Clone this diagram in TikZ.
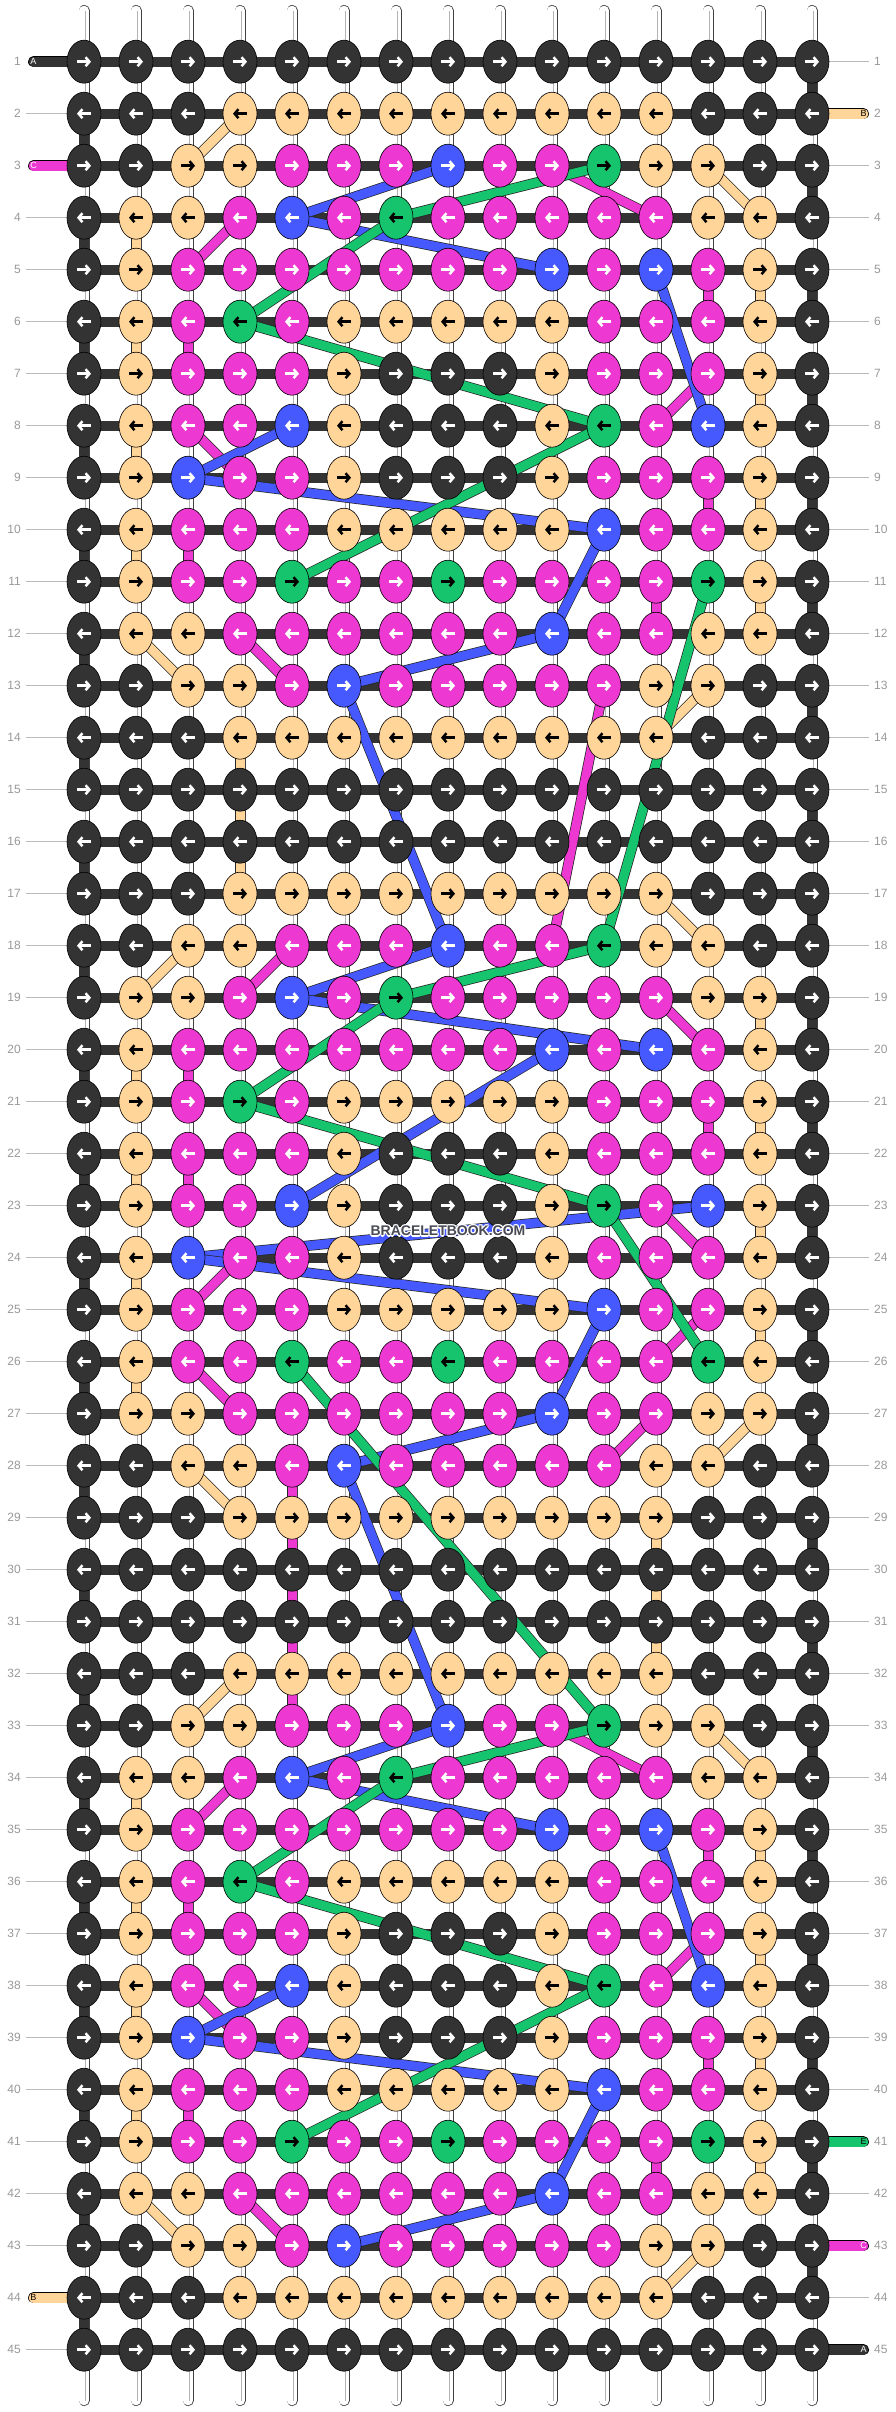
\documentclass[tikz,border=0pt]{standalone}
\usepackage{fontspec}
\setmainfont{Liberation Sans}
\usetikzlibrary{shapes.geometric,arrows.meta}
\definecolor{colD}{HTML}{333333}
\definecolor{colP}{HTML}{FFD59A}
\definecolor{colM}{HTML}{EE38D2}
\definecolor{colB}{HTML}{4659FF}
\definecolor{colG}{HTML}{17C46E}
\definecolor{rowgray}{HTML}{999999}
\definecolor{linegray}{HTML}{BBBBBB}
\definecolor{wmgray}{HTML}{4A4A55}
\pgfdeclarelayer{paper}
\pgfdeclarelayer{strings}
\pgfdeclarelayer{bands}
\pgfdeclarelayer{threads}
\pgfdeclarelayer{labels}
\pgfsetlayers{paper,strings,bands,threads,main,labels}
\expandafter\def\csname pat1\endcsname{D,D,D,D,D,D,D,D,D,D,D,D,D,D,D}
\expandafter\def\csname pat2\endcsname{D,D,D,P,P,P,P,P,P,P,P,P,D,D,D}
\expandafter\def\csname pat3\endcsname{D,D,P,P,M,M,M,B,M,M,G,P,P,D,D}
\expandafter\def\csname pat4\endcsname{D,P,P,M,B,M,G,M,M,M,M,M,P,P,D}
\expandafter\def\csname pat5\endcsname{D,P,M,M,M,M,M,M,M,B,M,B,M,P,D}
\expandafter\def\csname pat6\endcsname{D,P,M,G,M,P,P,P,P,P,M,M,M,P,D}
\expandafter\def\csname pat7\endcsname{D,P,M,M,M,P,D,D,D,P,M,M,M,P,D}
\expandafter\def\csname pat8\endcsname{D,P,M,M,B,P,D,D,D,P,G,M,B,P,D}
\expandafter\def\csname pat9\endcsname{D,P,B,M,M,P,D,D,D,P,M,M,M,P,D}
\expandafter\def\csname pat10\endcsname{D,P,M,M,M,P,P,P,P,P,B,M,M,P,D}
\expandafter\def\csname pat11\endcsname{D,P,M,M,G,M,M,G,M,M,M,M,G,P,D}
\expandafter\def\csname pat12\endcsname{D,P,P,M,M,M,M,M,M,B,M,M,P,P,D}
\expandafter\def\csname pat13\endcsname{D,D,P,P,M,B,M,M,M,M,M,P,P,D,D}
\expandafter\def\csname pat14\endcsname{D,D,D,P,P,P,P,P,P,P,P,P,D,D,D}
\expandafter\def\csname pat15\endcsname{D,D,D,D,D,D,D,D,D,D,D,D,D,D,D}
\newcommand\thr[3]{%
  \draw[line width=10.4pt,draw=black!85] (#2.center) -- (#3.center);
  \draw[line width=9pt,draw=#1] (#2.center) -- (#3.center);}
\begin{document}
\begin{tikzpicture}[x=1pt,y=-1pt,
  knot/.style={ellipse,draw=black,line width=0.6pt,minimum width=34pt,minimum height=43pt,inner sep=0pt},
  arr/.style={line width=2.5pt,-{Straight Barb[length=3.8pt,width=9pt]}},
  arrD/.style={draw=white}, arrP/.style={draw=black}, arrM/.style={draw=white},
  arrB/.style={draw=white}, arrG/.style={draw=black},
  band/.style={line width=10pt,draw=colD},
  rownum/.style={text=rowgray,font=\fontsize{12}{12}\selectfont,inner sep=0pt},
  pilltext/.style={font=\fontsize{9}{9}\selectfont,inner sep=0pt},
  wmtext/.style={font=\bfseries\fontsize{14}{14}\selectfont,inner sep=0pt}]
\path[use as bounding box] (0,0) rectangle (896,2412);
\begin{pgfonlayer}{paper}
\fill[white] (0,0) rectangle (896,2412);
\end{pgfonlayer}
% knots
\foreach \r in {1,...,45}{
  \pgfmathtruncatemacro\p{mod(\r-1,15)+1}
  \pgfmathtruncatemacro\odd{mod(\r,2)}
  \pgfmathsetmacro\yy{61.7+52*(\r-1)}
  \edef\pat{\csname pat\p\endcsname}
  \foreach \k [count=\c] in \pat {
    \pgfmathsetmacro\xx{84+52*(\c-1)}
    \node[knot,fill=col\k] (k-\r-\c) at (\xx,\yy) {};
    \ifnum\odd=1
      \draw[arr,arr\k] (\xx-7,\yy) -- (\xx+7,\yy);
    \else
      \draw[arr,arr\k] (\xx+7,\yy) -- (\xx-7,\yy);
    \fi
  }
}
% base strings
\begin{pgfonlayer}{strings}
\foreach \c in {1,...,15}{
  \pgfmathsetmacro\xx{84+52*(\c-1)}
  \coordinate (st-\c) at (\xx,10.5);
  \coordinate (sb-\c) at (\xx,2400.5);
  \draw[line width=11pt,black!75,line cap=round] (st-\c) -- (sb-\c);
  \draw[line width=9.6pt,white,line cap=round] (st-\c) -- (sb-\c);
  \draw[line width=1pt,black!30] ([xshift=1.5pt]st-\c) -- ([xshift=1.5pt]sb-\c);
}
\end{pgfonlayer}
% bands, edges, row labels, pills
\begin{pgfonlayer}{bands}
\foreach \r in {1,...,45}{
  \pgfmathsetmacro\yy{61.7+52*(\r-1)}
  \draw[band] (k-\r-1.center) -- (k-\r-15.center);
  \pgfmathtruncatemacro\haslp{(\r==1)||(\r==3)||(\r==44)}
  \pgfmathtruncatemacro\hasrp{(\r==2)||(\r==41)||(\r==43)||(\r==45)}
  \coordinate (gl-\r) at (26,\yy);
  \coordinate (gr-\r) at (869,\yy);
  \ifnum\haslp=0 \draw[line width=1.2pt,linegray] (gl-\r) -- (k-\r-1.center); \fi
  \ifnum\hasrp=0 \draw[line width=1.2pt,linegray] (k-\r-15.center) -- (gr-\r); \fi
  \node[rownum,anchor=east] (nl-\r) at (21,\yy) {\r};
  \node[rownum,anchor=west] (nr-\r) at (874,\yy) {\r};
}
\foreach \r in {1,...,44}{
  \pgfmathtruncatemacro\rn{\r+1}
  \pgfmathtruncatemacro\odd{mod(\r,2)}
  \ifnum\odd=1 \def\ec{15}\else\def\ec{1}\fi
  \draw[band] (k-\r-\ec.center) -- (k-\rn-\ec.center);
}
\foreach \r/\pc/\lt/\tc in {1/colD/A/white,3/colM/C/white,44/colP/B/black}{
  \pgfmathsetmacro\yy{61.7+52*(\r-1)}
  \coordinate (pl-\r) at (33.5,\yy);
  \draw[line width=11pt,black,line cap=round] (pl-\r) -- (k-\r-1.center);
  \draw[line width=9.6pt,\pc,line cap=round] (pl-\r) -- (k-\r-1.center);
  \node[pilltext,text=\tc] (lp-\r) at (pl-\r) {\lt};
}
\foreach \r/\pc/\lt/\tc in {2/colP/B/black,41/colG/E/black,43/colM/C/white,45/colD/A/white}{
  \pgfmathsetmacro\yy{61.7+52*(\r-1)}
  \coordinate (pr-\r) at (863.5,\yy);
  \draw[line width=11pt,black,line cap=round] (pr-\r) -- (k-\r-15.center);
  \draw[line width=9.6pt,\pc,line cap=round] (pr-\r) -- (k-\r-15.center);
  \node[pilltext,text=\tc] (rp-\r) at (pr-\r) {\lt};
}
\end{pgfonlayer}
% coloured threads
\begin{pgfonlayer}{threads}
\foreach \a/\b in {2-4/3-3,3-13/4-14,4-2/5-2,5-14/6-14,6-2/7-2,7-14/8-14,8-2/9-2,9-14/10-14,10-2/11-2,11-14/12-14,12-2/13-3,13-13/14-12,14-4/17-4,17-12/18-13,18-3/19-2,19-14/20-14,20-2/21-2,21-14/22-14,22-2/23-2,23-14/24-14,24-2/25-2,25-14/26-14,26-2/27-2,27-14/28-13,28-3/29-4,29-12/32-12,32-4/33-3,33-13/34-14,34-2/35-2,35-14/36-14,36-2/37-2,37-14/38-14,38-2/39-2,39-14/40-14,40-2/41-2,41-14/42-14,42-2/43-3,43-13/44-12}
  {\thr{colP}{k-\a}{k-\b}}
\foreach \a/\b in {3-10/4-12,4-4/5-3,5-13/6-13,6-3/7-3,7-13/8-12,8-3/9-4,9-13/10-13,10-3/11-3,11-12/12-12,12-4/13-5,13-11/18-10,18-5/19-4,19-12/20-13,20-3/21-3,21-13/22-13,22-3/23-3,23-12/24-13,24-4/25-3,25-13/26-12,26-3/27-4,27-12/28-11,28-5/33-5,33-10/34-12,34-4/35-3,35-13/36-13,36-3/37-3,37-13/38-12,38-3/39-4,39-13/40-13,40-3/41-3,41-12/42-12,42-4/43-5}
  {\thr{colM}{k-\a}{k-\b}}
\foreach \a/\b in {3-8/4-5,4-5/5-10,5-12/8-13,8-5/9-3,9-3/10-11,10-11/12-10,12-10/13-6,13-6/18-8,18-8/19-5,19-5/20-12,20-10/23-5,23-13/24-3,24-3/25-11,25-11/27-10,27-10/28-6,28-6/33-8,33-8/34-5,34-5/35-10,35-12/38-13,38-5/39-3,39-3/40-11,40-11/42-10,42-10/43-6}
  {\thr{colB}{k-\a}{k-\b}}
\foreach \a/\b in {3-11/4-7,4-7/6-4,6-4/8-11,8-11/11-5,11-13/18-11,18-11/19-7,19-7/21-4,21-4/23-11,23-11/26-13,26-5/33-11,33-11/34-7,34-7/36-4,36-4/38-11,38-11/41-5}
  {\thr{colG}{k-\a}{k-\b}}
\end{pgfonlayer}
\begin{pgfonlayer}{labels}
\foreach \dx/\dy in {-1.2/0,1.2/0,0/-1.2,0/1.2,-0.9/-0.9,0.9/0.9,-0.9/0.9,0.9/-0.9}
  {\node[wmtext,text=white] at (448+\dx,1231+\dy) {BRACELETBOOK.COM};}
\node[wmtext,text=wmgray] (wm) at (448,1231) {BRACELETBOOK.COM};
\end{pgfonlayer}
\end{tikzpicture}
\end{document}
